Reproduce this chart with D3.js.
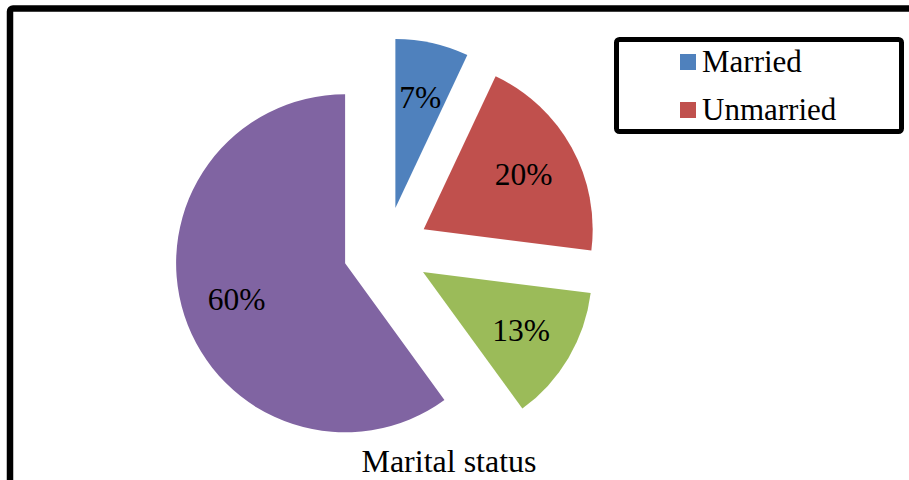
<!DOCTYPE html>
<html>
<head>
<meta charset="utf-8">
<script src="https://cdn.jsdelivr.net/npm/d3@7"></script>
<style>
  body { margin: 0; background: #fff; }
  text { font-family: "Liberation Serif", "Times New Roman", serif; fill: #000; }
</style>
</head>
<body>
<div id="chart"></div>
<script>
// data
var categories = ["Married", "Unmarried", "Other", "Single"];
var percents = [7, 20, 13, 60];
var legendNames = ["Married", "Unmarried"];
var colors = ["#4F81BD", "#C0504D", "#9BBB59", "#8064A2"];
var axisTitle = "Marital status";

var svgWidth = 909;
var svgHeight = 480;

var svg = d3.select("#chart")
  .append("svg")
  .attr("width", svgWidth)
  .attr("height", svgHeight);

// outer frame (runs off the right and bottom edge)
svg.append("rect")
  .attr("x", 10)
  .attr("y", 8.5)
  .attr("width", 1000)
  .attr("height", 600)
  .attr("rx", 3)
  .attr("fill", "none")
  .attr("stroke", "#000")
  .attr("stroke-width", 6.5);

// pie
var cx = 386, cy = 250;
var radius = 169;
var explode = 43;

var pie = d3.pie().sort(null).value(function(d){ return d; });
var arcs = pie(percents);

var arc = d3.arc().innerRadius(0).outerRadius(radius);
var labelArc = d3.arc().innerRadius(114).outerRadius(114);

function offset(d){
  var mid = (d.startAngle + d.endAngle) / 2;
  return [explode * Math.sin(mid), -explode * Math.cos(mid)];
}

var slices = svg.append("g")
  .attr("transform", "translate(" + cx + "," + cy + ")")
  .selectAll("g.slice")
  .data(arcs)
  .enter()
  .append("g")
  .attr("class", "slice")
  .attr("transform", function(d){
    var o = offset(d);
    return "translate(" + o[0] + "," + o[1] + ")";
  });

slices.append("path")
  .attr("d", arc)
  .attr("fill", function(d, i){ return colors[i]; });

slices.append("text")
  .attr("transform", function(d){
    return "translate(" + labelArc.centroid(d) + ")";
  })
  .attr("text-anchor", "middle")
  .attr("dy", "0.35em")
  .attr("font-size", 31.5)
  .text(function(d){ return d.data + "%"; });

// legend
svg.append("rect")
  .attr("x", 616.5)
  .attr("y", 39.5)
  .attr("width", 285)
  .attr("height", 92)
  .attr("rx", 3)
  .attr("fill", "#fff")
  .attr("stroke", "#000")
  .attr("stroke-width", 5);

var legend = svg.selectAll("g.legend")
  .data(legendNames)
  .enter()
  .append("g")
  .attr("class", "legend")
  .attr("transform", function(d, i){
    return "translate(680," + (54 + i * 48) + ")";
  });

legend.append("rect")
  .attr("width", 16)
  .attr("height", 16)
  .attr("fill", function(d, i){ return colors[i]; });

legend.append("text")
  .attr("x", 22)
  .attr("y", 18)
  .attr("font-size", 31)
  .text(function(d){ return d; });

// category axis title
svg.append("text")
  .attr("x", 449)
  .attr("y", 472)
  .attr("text-anchor", "middle")
  .attr("font-size", 32)
  .text(axisTitle);
</script>
</body>
</html>
